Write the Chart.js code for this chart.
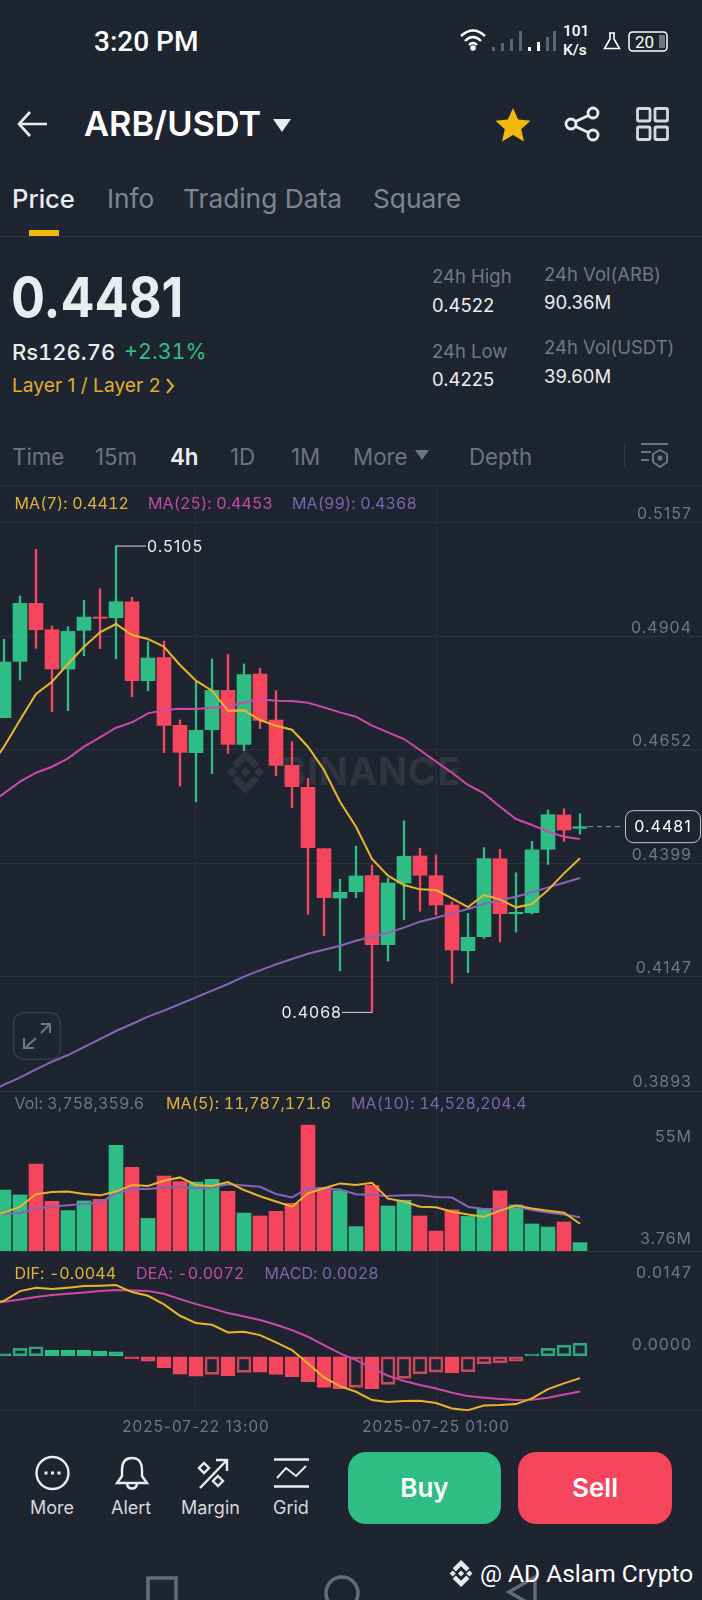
<!DOCTYPE html>
<html>
<head>
<meta charset="utf-8">
<title>ARB/USDT</title>
<script src="https://cdn.jsdelivr.net/npm/chart.js@4/dist/chart.umd.min.js"></script>
<style>
  html, body { margin: 0; padding: 0; background: #1f2530; }
  #page { position: relative; width: 702px; height: 1600px; overflow: hidden; background: #1f2530; font-family: Inter, sans-serif; }
  .t { position: absolute; white-space: nowrap; transform: translateY(-50%); line-height: 1; }
  .grey { color: #6f7785; }
  .soft { color: #7d8593; }
  .white { color: #eaecef; }
  .stat { font-size: 18.5px; }
  .int { font-size: 22.3px; top: 456.5px; color: #6c7482; }
  .leg { font-size: 16px; font-variant-numeric: tabular-nums; letter-spacing: 0.1px; }
  .tool { font-size: 18px; top: 1508px; color: #d5d8de; }
  .hline { position: absolute; left: 0; width: 702px; height: 1px; background: #2c323d; }
  canvas { position: absolute; left: -12px; }
  svg { position: absolute; overflow: visible; }
  .btn { position: absolute; top: 1452px; height: 72px; border-radius: 18px; color: #fff; font-size: 26px; font-weight: 600; line-height: 72px; text-align: center; }
</style>
</head>
<body>
<div id="page">
  <svg width="0" height="0"><defs>
    <symbol id="bnb" viewBox="0 0 126 126"><path d="M38.7 53.2l24.6-24.6 24.6 24.6 14.3-14.3L63.3 0 24.4 38.9zM10 63l14.3-14.3L38.6 63 24.3 77.3zM38.7 72.8l24.6 24.6 24.6-24.6 14.3 14.3-38.9 38.9-38.9-38.9zM88 63l14.3-14.3L116.6 63l-14.3 14.3zM77.8 63L63.3 48.5 48.8 63l14.5 14.5z"/></symbol>
  </defs></svg>

  <!-- status bar -->
  <div class="t" style="left:94px;top:41px;font:500 28px Roboto;color:#fff">3:20 PM</div>
  <svg style="left:460px;top:28px" width="28" height="24" fill="none" stroke="#fff" stroke-width="2.4">
    <path d="M1 8 Q13 -3 25 8"/><path d="M5 13 Q13 5 21 13"/><path d="M9 17 Q13 13 17 17"/><circle cx="13" cy="20" r="1.6" fill="#fff"/>
  </svg>
  <svg style="left:492px;top:30px" width="64" height="22" fill="#5d6470">
    <rect x="0" y="17" width="3" height="4"/><rect x="9" y="13" width="3" height="8"/><rect x="18" y="9" width="3" height="12"/><rect x="27" y="1" width="3" height="20"/>
    <rect x="36" y="17" width="3" height="4" fill="#fff"/><rect x="45" y="12" width="3" height="9" fill="#fff"/><rect x="54" y="7" width="3" height="14"/><rect x="61" y="1" width="3" height="20"/>
  </svg>
  <div class="t" style="left:563px;top:31px;font:500 15.5px Roboto;color:#fff">101</div>
  <div class="t" style="left:563px;top:50px;font:500 15.5px Roboto;color:#fff">K/s</div>
  <svg style="left:603px;top:32px" width="18" height="18" fill="none" stroke="#fff" stroke-width="1.6">
    <path d="M6 1 H12 M7 1 V7 L1.5 16.5 H16.5 L11 7 V1"/>
  </svg>
  <svg style="left:628px;top:31px" width="41" height="21" fill="none">
    <rect x="1" y="1" width="38" height="19" rx="3.5" stroke="#fff" stroke-width="1.5"/>
    <rect x="31" y="4" width="6" height="13" fill="#6d7480"/>
  </svg>
  <div class="t" style="left:635px;top:41.5px;font:400 17px Roboto;color:#fff">20</div>

  <!-- header -->
  <svg style="left:17px;top:110px" width="31" height="28" fill="none" stroke="#eaecef" stroke-width="2.6">
    <path d="M30 14 H2 M13 2 L2 14 L13 26"/>
  </svg>
  <div class="t" style="left:84px;top:124px;font-size:34.4px;font-weight:600;color:#fff">ARB/USDT</div>
  <svg style="left:273px;top:119px" width="18" height="13"><path d="M0 0 H18 L9 13 Z" fill="#eaecef"/></svg>
  <svg style="left:495px;top:107px" width="36" height="35"><path d="M18 1 L23.2 12.6 L35.5 13.8 L26.2 22.2 L29 34.6 L18 28 L7 34.6 L9.8 22.2 L0.5 13.8 L12.8 12.6 Z" fill="#f0b90b"/></svg>
  <svg style="left:565px;top:107px" width="35" height="34" fill="none" stroke="#eaecef" stroke-width="2.8">
    <circle cx="6" cy="17" r="5"/><circle cx="28" cy="6" r="5"/><circle cx="28" cy="28" r="5"/><path d="M10.5 14.5 L23.5 8.5 M10.5 19.5 L23.5 25.5"/>
  </svg>
  <svg style="left:636px;top:107px" width="33" height="34" fill="none" stroke="#d5d8de" stroke-width="2.8">
    <rect x="1.5" y="1.5" width="12.5" height="12.5" rx="1.5"/><rect x="19" y="1.5" width="12.5" height="12.5" rx="1.5"/>
    <rect x="1.5" y="20" width="12.5" height="12.5" rx="1.5"/><rect x="19" y="20" width="12.5" height="12.5" rx="1.5"/>
  </svg>

  <!-- tabs -->
  <div class="t white" style="left:12px;top:199px;font-size:25.6px;font-weight:500">Price</div>
  <div class="t soft" style="left:107px;top:199px;font-size:26.3px">Info</div>
  <div class="t soft" style="left:183px;top:199px;font-size:26.3px">Trading Data</div>
  <div class="t soft" style="left:373px;top:199px;font-size:26.3px">Square</div>
  <div style="position:absolute;left:29px;top:230px;width:30px;height:6px;background:#f0b90b"></div>
  <div class="hline" style="top:236px"></div>

  <!-- price summary -->
  <div class="t" style="left:11px;top:298px;font-size:50.5px;font-weight:700;color:#eaecef;transform:translateY(-50%) scaleY(1.08)">0.4481</div>
  <div class="t" style="left:12px;top:352px;font-size:22px;font-weight:500;color:#eaecef;font-variant-numeric:tabular-nums">Rs126.76</div>
  <div class="t" style="left:124px;top:352px;font-size:21.5px;color:#2ebd85;font-variant-numeric:tabular-nums">+2.31%</div>
  <div class="t" style="left:12px;top:385.5px;font-size:19.2px;color:#e0ae2d">Layer 1 / Layer 2</div>
  <svg style="left:165px;top:378px" width="10" height="16" fill="none" stroke="#e0ae2d" stroke-width="2"><path d="M2 1 L8 8 L2 15"/></svg>
  <div class="t stat grey" style="left:432px;top:276px">24h High</div>
  <div class="t stat white" style="left:432px;top:305px">0.4522</div>
  <div class="t stat grey" style="left:544px;top:274px">24h Vol(ARB)</div>
  <div class="t stat white" style="left:544px;top:302px">90.36M</div>
  <div class="t stat grey" style="left:432px;top:350.5px">24h Low</div>
  <div class="t stat white" style="left:432px;top:379px">0.4225</div>
  <div class="t stat grey" style="left:544px;top:347px">24h Vol(USDT)</div>
  <div class="t stat white" style="left:544px;top:376px">39.60M</div>

  <!-- interval row -->
  <div class="t int" style="left:12px">Time</div>
  <div class="t int" style="left:95px">15m</div>
  <div class="t int" style="left:170px;color:#eaecef;font-weight:600">4h</div>
  <div class="t int" style="left:230px">1D</div>
  <div class="t int" style="left:291px">1M</div>
  <div class="t int" style="left:353px">More</div>
  <svg style="left:415px;top:450px" width="14" height="10"><path d="M0 0 H14 L7 10 Z" fill="#6c7482"/></svg>
  <div class="t int" style="left:469px">Depth</div>
  <div style="position:absolute;left:624px;top:443px;width:1px;height:24px;background:#343a46"></div>
  <svg style="left:640px;top:443px" width="29" height="26" fill="none" stroke="#6c7482" stroke-width="2">
    <path d="M1 1 H28 M1 9 H11 M1 17 H9"/><path d="M20 7 L27 11 V19 L20 24 L13 19 V11 Z"/><circle cx="20" cy="15" r="1.6" fill="#6c7482"/>
  </svg>

  <div class="hline" style="top:485px"></div>
  <div class="hline" style="top:1091px"></div>
  <div class="hline" style="top:1251px"></div>
  <div class="hline" style="top:1410px"></div>

  <!-- watermark under the candles -->
  <svg style="left:222px;top:750px" width="47" height="44" fill="#30353f"><use href="#bnb" width="47" height="44"/></svg>
  <div class="t" style="left:281px;top:771px;font-size:38px;font-weight:700;color:#30353f;letter-spacing:1px">BINANCE</div>

  <canvas id="priceChart" style="top:485px"></canvas>
  <canvas id="volumeChart" style="top:1091px"></canvas>
  <canvas id="macdChart" style="top:1251px"></canvas>

  <!-- pane legends -->
  <div class="t leg" style="left:14.5px;top:503px;color:#dfb23a">MA(7): 0.4412</div>
  <div class="t leg" style="left:148px;top:503px;color:#c34aa5">MA(25): 0.4453</div>
  <div class="t leg" style="left:292px;top:503px;color:#7f63ad">MA(99): 0.4368</div>
  <div class="t leg" style="left:14.5px;top:1103px;color:#6f7785">Vol: 3,758,359.6</div>
  <div class="t leg" style="left:166px;top:1103px;color:#dfb23a">MA(5): 11,787,171.6</div>
  <div class="t leg" style="left:351px;top:1103px;color:#7f63ad">MA(10): 14,528,204.4</div>
  <div class="t leg" style="left:14.5px;top:1273px;color:#dfb23a">DIF: -0.0044</div>
  <div class="t leg" style="left:136px;top:1273px;color:#c34aa5">DEA: -0.0072</div>
  <div class="t leg" style="left:264.5px;top:1273px;color:#7f63ad">MACD: 0.0028</div>

  <!-- expand button -->
  <svg style="left:13px;top:1012px" width="48" height="48" fill="none">
    <rect x="0.7" y="0.7" width="46.6" height="46.6" rx="10" stroke="#363c47" stroke-width="1.4"/>
    <path d="M13 35 L23 26 M28 21 L37 12 M28 12 H37 V21 M11 26 V36 H21" stroke="#6f7785" stroke-width="2"/>
  </svg>

  <!-- bottom toolbar -->
  <svg style="left:35px;top:1456px" width="36" height="36" fill="none" stroke="#eaecef" stroke-width="2.4">
    <circle cx="17.5" cy="17" r="16"/><rect x="9.5" y="15.5" width="3" height="3" fill="#eaecef" stroke="none"/><rect x="16" y="15.5" width="3" height="3" fill="#eaecef" stroke="none"/><rect x="22.5" y="15.5" width="3" height="3" fill="#eaecef" stroke="none"/>
  </svg>
  <div class="t tool" style="left:30px">More</div>
  <svg style="left:115px;top:1456px" width="35" height="36" fill="none" stroke="#eaecef" stroke-width="2.4">
    <path d="M17 2 C9 2 7 8 7 14 V20 L2 27 H32 L27 20 V14 C27 8 25 2 17 2 Z"/><path d="M12 28 C13 34 21 34 22 28"/>
  </svg>
  <div class="t tool" style="left:111px">Alert</div>
  <svg style="left:197px;top:1458px" width="32" height="31" fill="none" stroke="#eaecef" stroke-width="2.4">
    <path d="M3 30 L30 2 M19 2 H30 V13"/><path d="M7 5 L12 10 L7 15 L2 10 Z"/><path d="M21 18 L26 23 L21 28 L16 23 Z"/>
  </svg>
  <div class="t tool" style="left:181px">Margin</div>
  <svg style="left:274px;top:1458px" width="35" height="30" fill="none" stroke="#eaecef" stroke-width="2.6">
    <path d="M0 1.5 H35 M0 28.5 H35"/><path d="M3 20 L12 10 L22 18 L32 8" stroke-width="2"/>
  </svg>
  <div class="t tool" style="left:273px">Grid</div>
  <div class="btn" style="left:348px;width:153px;background:#2ebd85">Buy</div>
  <div class="btn" style="left:518px;width:154px;background:#f6465d">Sell</div>

  <!-- nav bar and credit -->
  <svg style="left:146px;top:1574px" width="395" height="40" fill="none" stroke="#666c77" stroke-width="3.5">
    <rect x="2" y="4" width="28" height="30"/><circle cx="196" cy="19" r="16"/><path d="M389 3 L363 18 L389 33 Z"/>
  </svg>
  <svg style="left:447px;top:1560px" width="28" height="27" fill="#eaecef"><use href="#bnb" width="28" height="27"/></svg>
  <div class="t" style="left:480px;top:1573px;font:400 24.5px Roboto;color:#fff">@ AD Aslam Crypto</div>
</div>

<script>
// 4h candles, first one sits just off the left edge of the screen
const times = [
  '2025-07-20 09:00', '2025-07-20 13:00', '2025-07-20 17:00', '2025-07-20 21:00', '2025-07-21 01:00', '2025-07-21 05:00',
  '2025-07-21 09:00', '2025-07-21 13:00', '2025-07-21 17:00', '2025-07-21 21:00', '2025-07-22 01:00', '2025-07-22 05:00',
  '2025-07-22 09:00', '2025-07-22 13:00', '2025-07-22 17:00', '2025-07-22 21:00', '2025-07-23 01:00', '2025-07-23 05:00',
  '2025-07-23 09:00', '2025-07-23 13:00', '2025-07-23 17:00', '2025-07-23 21:00', '2025-07-24 01:00', '2025-07-24 05:00',
  '2025-07-24 09:00', '2025-07-24 13:00', '2025-07-24 17:00', '2025-07-24 21:00', '2025-07-25 01:00', '2025-07-25 05:00',
  '2025-07-25 09:00', '2025-07-25 13:00', '2025-07-25 17:00', '2025-07-25 21:00', '2025-07-26 01:00', '2025-07-26 05:00',
  '2025-07-26 09:00', '2025-07-26 13:00'
];
const emptySlots = ['', '', '', '', '', '', '', ''];
const timeTicks = ['2025-07-22 13:00', '2025-07-25 01:00'];

const opens = [.46800, .47233, .48486, .49776, .49190, .48316, .49176, .49472, .49457, .49813, .48056, .48568, .47063, .46455, .46966, .47841, .46640, .48204, .47181, .46173, .45684, .44320, .43222, .43363, .43719, .42185, .43556, .44157, .43719, .43067, .42051, .42362, .44097, .42874, .42896, .44305, .45069, .44770];
const highs = [.47300, .48976, .49939, .50977, .49272, .49257, .49843, .50102, .51051, .49910, .48924, .48938, .47181, .48034, .48538, .48642, .48427, .48331, .47834, .46699, .45884, .44320, .43638, .44379, .43956, .43660, .44942, .44327, .44179, .43141, .42881, .44342, .44305, .43786, .44483, .45180, .45209, .45098];
const lows = [.46500, .47233, .48071, .48775, .47367, .47389, .48612, .48768, .48545, .47700, .47834, .46455, .45713, .45358, .45988, .46440, .46499, .46989, .45943, .45232, .42859, .42385, .41599, .43230, .40679, .41821, .42741, .42926, .42844, .41324, .41562, .42325, .42244, .42466, .42867, .43971, .44483, .44646];
const closes = [.47230, .48471, .49776, .49190, .48316, .49153, .49472, .49443, .49813, .48056, .48560, .47063, .46462, .46952, .47841, .46640, .48190, .47174, .46173, .45699, .44342, .43230, .43348, .43712, .42185, .43556, .44149, .43727, .43067, .42066, .42348, .44097, .42874, .42904, .44297, .45076, .44735, .44810];

const ma7 = [.46069, .46588, .47181, .47760, .48034, .48427, .48812, .49131, .49317, .49072, .48983, .48812, .48405, .48056, .47834, .47389, .47396, .47181, .47055, .46966, .46588, .46069, .45365, .44809, .44090, .43719, .43512, .43415, .43400, .43215, .43022, .43289, .43193, .43015, .43089, .43400, .43771, .44105];
const ma25 = [.45291, .45550, .45810, .46010, .46143, .46329, .46588, .46796, .47011, .47129, .47330, .47404, .47433, .47426, .47456, .47478, .47574, .47641, .47611, .47604, .47567, .47463, .47352, .47255, .47055, .46907, .46759, .46514, .46255, .46010, .45736, .45550, .45254, .44980, .44846, .44698, .44587, .44535];
const ma99 = [.38878, .39071, .39226, .39412, .39582, .39730, .39908, .40086, .40264, .40420, .40583, .40717, .40865, .41013, .41161, .41310, .41473, .41614, .41747, .41866, .41984, .42073, .42162, .42273, .42362, .42451, .42563, .42696, .42785, .42881, .42978, .43089, .43171, .43252, .43349, .43460, .43563, .43667];

const priceTicks = [.5157, .4904, .4652, .4399, .4147, .3893];
const lastPrice = 0.4481;
const highIndex = 8;
const lowIndex = 24;

// volume in millions
const volumes = [20.0, 27.5, 25.3, 39.2, 22.4, 18.2, 22.6, 23.3, 47.7, 37.7, 14.7, 33.8, 31.3, 31.1, 32.3, 26.9, 17.1, 15.8, 17.9, 21.5, 56.8, 28.7, 27.2, 11.0, 29.6, 20.3, 22.9, 15.8, 9.0, 18.6, 15.6, 18.8, 27.1, 20.8, 12.2, 10.8, 13.1, 3.76];
const volMa5 = [15.8, 17.3, 20.0, 25.6, 26.6, 26.8, 25.7, 25.1, 26.8, 29.8, 29.3, 31.7, 33.2, 29.8, 29.3, 31.1, 27.5, 24.7, 22.3, 20.0, 26.0, 28.3, 30.5, 29.8, 30.8, 23.6, 22.3, 20.0, 19.7, 17.7, 16.5, 15.5, 18.2, 20.5, 19.2, 18.2, 17.3, 12.3];
const volMa10 = [17.0, 16.8, 17.0, 19.2, 20.0, 20.6, 21.2, 21.8, 26.0, 28.0, 28.0, 28.6, 28.9, 28.3, 28.6, 30.1, 29.6, 29.0, 25.7, 24.2, 28.3, 28.1, 27.7, 25.6, 25.3, 24.8, 25.1, 25.1, 24.4, 24.1, 20.0, 18.9, 18.9, 20.0, 18.5, 17.4, 16.5, 15.2];
const volTickSpots = [51.4, 5.3];
const volTickLabels = ['55M', '3.76M'];

const macdHist = [.00020, .00055, .00164, .00198, .00123, .00123, .00123, .00109, .00096, -.00048, -.00096, -.00232, -.00362, -.00403, -.00369, -.00396, -.00328, -.00321, -.00369, -.00417, -.00519, -.00635, -.00663, -.00635, -.00663, -.00574, -.00451, -.00355, -.00321, -.00335, -.00314, -.00150, -.00130, -.00096, .00048, .00164, .00232, .00273];
const macdHollow = [0, 0, 1, 1, 0, 0, 0, 0, 0, 0, 0, 0, 0, 0, 1, 0, 1, 0, 0, 0, 0, 0, 0, 1, 0, 1, 1, 1, 1, 0, 1, 1, 1, 1, 1, 1, 1, 1];
const dif = [.01052, .01141, .01339, .01407, .01380, .01407, .01441, .01448, .01462, .01318, .01243, .01066, .00833, .00683, .00649, .00492, .00505, .00437, .00287, .00130, -.00143, -.00430, -.00608, -.00724, -.00895, -.00936, -.00915, -.00908, -.00956, -.01066, -.01100, -.01004, -.00997, -.00977, -.00861, -.00669, -.00553, -.00444];
const dea = [.01072, .01120, .01168, .01216, .01257, .01284, .01311, .01339, .01359, .01352, .01339, .01284, .01175, .01072, .00984, .00888, .00820, .00745, .00649, .00540, .00403, .00232, .00061, -.00075, -.00246, -.00396, -.00505, -.00587, -.00656, -.00745, -.00813, -.00847, -.00874, -.00895, -.00888, -.00847, -.00779, -.00717];
const macdTicks = [.0147, 0];

const GREEN = '#2ebd85';
const RED = '#f6465d';
const YELLOW = '#eab52a';
const MAGENTA = '#d048a8';
const PURPLE = '#8a63b8';
const GRID = '#2c323d';
const TICK = '#6f7785';
const labels = times.concat(emptySlots);

function pick(a, b) { return a.map(function (v, i) { return [v, b[i]]; }); }
const candleColors = opens.map(function (o, i) { return closes[i] >= o ? GREEN : RED; });

function lineSet(data, color, order) {
  return { type: 'line', data: data, borderColor: color, borderWidth: 2, pointRadius: 0, tension: 0, order: order };
}

function xAxis(showLabels) {
  return {
    offset: false,
    grid: { offset: false, drawTicks: false, color: GRID },
    border: { display: false },
    afterBuildTicks: function (scale) {
      scale.ticks = scale.ticks.filter(function (t) { return timeTicks.indexOf(labels[t.value]) >= 0; });
    },
    afterFit: function (scale) { scale.height = showLabels ? 25 : 0; },
    ticks: { display: showLabels, autoSkip: false, maxRotation: 0, color: TICK, padding: 7, font: { family: 'Inter', size: 15.3 } }
  };
}

function yAxis(min, max, tickValues, labelFn, lift, showGrid) {
  return {
    position: 'right',
    min: min,
    max: max,
    border: { display: false },
    grid: { drawTicks: false, color: showGrid ? GRID : 'transparent' },
    afterBuildTicks: function (scale) {
      scale.ticks = tickValues.map(function (v) { return { value: v }; });
    },
    // no room taken from the plot, labels sit on top of it
    afterFit: function (scale) { scale.width = 0; scale.paddingTop = 0; scale.paddingBottom = 0; },
    ticks: {
      mirror: true, autoSkip: false, padding: -16, labelOffset: lift, color: TICK,
      font: { family: 'Inter', size: 16 }, callback: labelFn
    }
  };
}

function baseOptions(x, y) {
  return {
    responsive: false,
    animation: false,
    layout: { padding: 0 },
    plugins: { legend: { display: false }, tooltip: { enabled: false } },
    scales: { x: x, y: y }
  };
}

function setSize(id, h) {
  const el = document.getElementById(id);
  el.width = 720;
  el.height = h;
  el.style.width = '720px';
  el.style.height = h + 'px';
  return el.getContext('2d');
}

// the app's digits run wider than Inter's
const wideText = {
  id: 'wideText',
  beforeDraw: function (chart) { chart.ctx.letterSpacing = '1px'; }
};

// high/low callouts and the last price tag
const priceMarks = {
  id: 'priceMarks',
  afterDatasetsDraw: function (chart) {
    const ctx = chart.ctx;
    const xs = chart.scales.x;
    const ys = chart.scales.y;
    ctx.save();
    ctx.font = '16px Inter';
    ctx.textBaseline = 'middle';
    ctx.strokeStyle = '#d5d8de';
    ctx.fillStyle = '#eaecef';
    ctx.lineWidth = 1;

    const hx = xs.getPixelForValue(highIndex);
    const hy = ys.getPixelForValue(highs[highIndex]);
    ctx.beginPath(); ctx.moveTo(hx, hy); ctx.lineTo(hx + 30, hy); ctx.stroke();
    ctx.textAlign = 'left';
    ctx.fillText(highs[highIndex].toFixed(4), hx + 31, hy + 1);

    const lx = xs.getPixelForValue(lowIndex);
    const ly = ys.getPixelForValue(lows[lowIndex]);
    ctx.beginPath(); ctx.moveTo(lx, ly); ctx.lineTo(lx - 30, ly); ctx.stroke();
    ctx.textAlign = 'right';
    ctx.fillText(lows[lowIndex].toFixed(4), lx - 30, ly + 1);

    const py = ys.getPixelForValue(lastPrice);
    const px = xs.getPixelForValue(times.length - 1);
    ctx.setLineDash([5, 4]);
    ctx.strokeStyle = '#8a909b';
    ctx.beginPath(); ctx.moveTo(px + 8, py); ctx.lineTo(636, py); ctx.stroke();
    ctx.setLineDash([]);
    ctx.strokeStyle = '#c4c8cf';
    ctx.fillStyle = '#1f2530';
    ctx.beginPath(); ctx.roundRect(637.5, py - 16, 75, 32, 8); ctx.fill(); ctx.stroke();
    ctx.fillStyle = '#ffffff';
    ctx.textAlign = 'center';
    ctx.fillText(lastPrice.toFixed(4), 675, py + 1);
    ctx.restore();
  }
};

new Chart(setSize('priceChart', 606), {
  type: 'bar',
  data: {
    labels: labels,
    datasets: [
      lineSet(ma7, YELLOW, 0),
      lineSet(ma25, MAGENTA, 1),
      lineSet(ma99, PURPLE, 2),
      { data: pick(opens, closes), backgroundColor: candleColors, barThickness: 14, grouped: false, order: 3 },
      { data: pick(lows, highs), backgroundColor: candleColors, barThickness: 1.7, grouped: false, order: 4 }
    ]
  },
  options: baseOptions(xAxis(false), yAxis(.3893, .52409, priceTicks, function (v) { return v.toFixed(4); }, -8.7, true)),
  plugins: [wideText, priceMarks]
});

new Chart(setSize('volumeChart', 160), {
  type: 'bar',
  data: {
    labels: labels,
    datasets: [
      lineSet(volMa5, YELLOW, 0),
      lineSet(volMa10, PURPLE, 1),
      { data: volumes, backgroundColor: candleColors, barThickness: 14, grouped: false, order: 2 }
    ]
  },
  options: baseOptions(xAxis(false), yAxis(0, 72.18, volTickSpots, function (v, i) { return volTickLabels[i]; }, 0, false)),
  plugins: [wideText]
});

const histColor = macdHist.map(function (v) { return v >= 0 ? GREEN : RED; });
new Chart(setSize('macdChart', 185), {
  type: 'bar',
  data: {
    labels: labels,
    datasets: [
      lineSet(dif, YELLOW, 0),
      lineSet(dea, MAGENTA, 1),
      {
        data: macdHist,
        backgroundColor: histColor.map(function (c, i) { return macdHollow[i] ? 'transparent' : c; }),
        borderColor: macdHist.map(function (v, i) {
          if (!macdHollow[i]) return histColor[i];
          return v >= 0 ? '#2fa57c' : '#c94a5c';
        }),
        borderWidth: 2,
        borderSkipped: false,
        barThickness: 14,
        grouped: false,
        order: 2
      }
    ]
  },
  options: baseOptions(xAxis(true), yAxis(-.01118, .0216, macdTicks, function (v) { return v.toFixed(4); }, -11, false)),
  plugins: [wideText]
});
</script>
</body>
</html>
